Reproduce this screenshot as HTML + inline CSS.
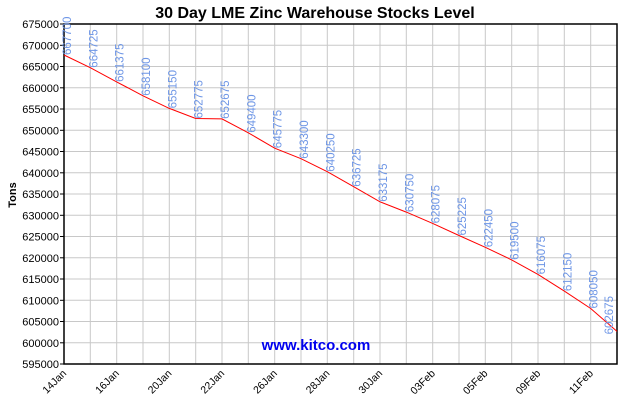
<!DOCTYPE html>
<html><head><meta charset="utf-8"><style>
html,body{margin:0;padding:0;background:#fff;}
svg{display:block;font-family:"Liberation Sans",Arial,sans-serif;}
</style></head><body>
<svg id="c" width="630" height="400" xmlns="http://www.w3.org/2000/svg"></svg>
<script>
var vals=[667700,664725,661375,658100,655150,652775,652675,649400,645775,643300,640250,636725,633175,630750,628075,625225,622450,619500,616075,612150,608050,602675];
var labs=["14Jan","16Jan","20Jan","22Jan","26Jan","28Jan","30Jan","03Feb","05Feb","09Feb","11Feb"];
var L=64,R=617,T=24,B=364;
function X(i){return L+i*(R-L)/21;}
function Y(v){return T+(675000-v)*(B-T)/80000;}
var s='';
s+='<text x="315" y="18" text-anchor="middle" font-size="16" font-weight="bold">30 Day LME Zinc Warehouse Stocks Level</text>';
for(var i=1;i<21;i++){var x=X(i).toFixed(1);s+='<line x1="'+x+'" y1="'+T+'" x2="'+x+'" y2="'+B+'" stroke="#c8c8c8"/>';}
for(var v=595000;v<=675000;v+=5000){var y=Y(v).toFixed(1);
 if(v>595000&&v<675000)s+='<line x1="'+L+'" y1="'+y+'" x2="'+R+'" y2="'+y+'" stroke="#c8c8c8"/>';
 s+='<line x1="'+(L-4)+'" y1="'+y+'" x2="'+L+'" y2="'+y+'" stroke="#000"/>';
 s+='<text x="'+(L-5)+'" y="'+(Y(v)+4)+'" text-anchor="end" font-size="11">'+v+'</text>';}
s+='<rect x="'+L+'" y="'+T+'" width="'+(R-L)+'" height="'+(B-T)+'" fill="none" stroke="#000" stroke-width="1.5"/>';
var p='';for(var i=0;i<22;i++)p+=X(i).toFixed(1)+','+Y(vals[i]).toFixed(1)+' ';
s+='<polyline points="'+p+'" fill="none" stroke="#ff0000" stroke-width="1"/>';
for(var i=0;i<22;i++){var x=X(i)+7,y=Y(vals[i]);if(i==21){x=X(i)-4;y=y+3;}s+='<text transform="translate('+x.toFixed(1)+','+y.toFixed(1)+') rotate(-90)" font-size="11.5" fill="#6e96e6">'+vals[i]+'</text>';}
for(var j=0;j<labs.length;j++){var x=X(j*2),y=B+6;s+='<text transform="translate('+(x+3).toFixed(1)+','+(y+4)+') rotate(-45)" text-anchor="end" font-size="10.5">'+labs[j]+'</text>';}
s+='<text transform="translate(16,195) rotate(-90)" text-anchor="middle" font-size="11" font-weight="bold">Tons</text>';
s+='<text x="316" y="350" text-anchor="middle" font-size="15" font-weight="bold" fill="#0000ee">www.kitco.com</text>';
document.getElementById('c').innerHTML=s;
</script>
</body></html>
